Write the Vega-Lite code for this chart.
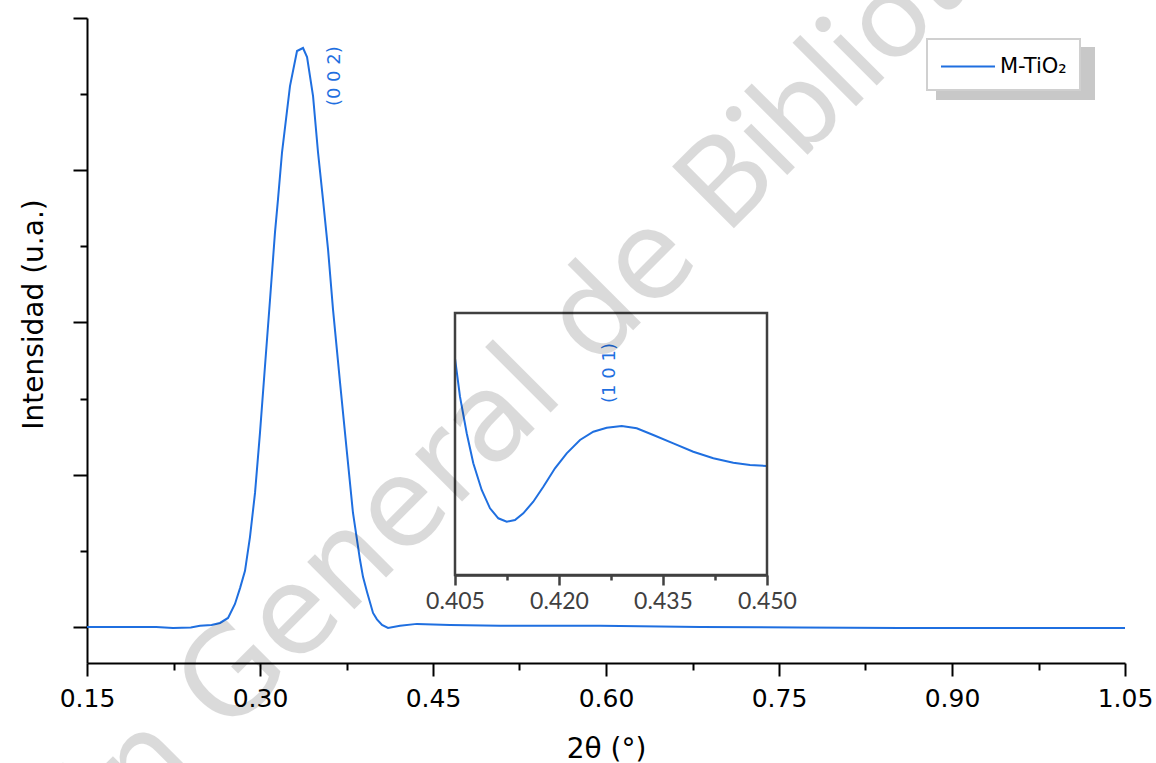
{
  "$schema": "https://vega.github.io/schema/vega-lite/v6.json",
  "width": 1038,
  "height": 645,
  "autosize": {"type": "none"},
  "padding": {"left": 87, "top": 18, "right": 31, "bottom": 100},
  "background": "white",
  "config": {
    "view": {"stroke": null},
    "font": "DejaVu Sans",
    "axis": {"grid": false, "labelFont": "DejaVu Sans", "titleFont": "DejaVu Sans"},
    "legend": {"labelFont": "DejaVu Sans"}
  },
  "datasets": {
    "main": [
      {"t": 0.150, "I": 0.000}, {"t": 0.180, "I": 0.000}, {"t": 0.210, "I": 0.000},
      {"t": 0.2246, "I": -0.007}, {"t": 0.240, "I": -0.003}, {"t": 0.248, "I": 0.007},
      {"t": 0.258, "I": 0.013}, {"t": 0.2653, "I": 0.026}, {"t": 0.2723, "I": 0.059},
      {"t": 0.2783, "I": 0.151}, {"t": 0.2827, "I": 0.255}, {"t": 0.2870, "I": 0.368},
      {"t": 0.2913, "I": 0.590}, {"t": 0.2957, "I": 0.882}, {"t": 0.3000, "I": 1.276},
      {"t": 0.3043, "I": 1.711}, {"t": 0.3087, "I": 2.151}, {"t": 0.3130, "I": 2.592},
      {"t": 0.3156, "I": 2.809}, {"t": 0.3191, "I": 3.118}, {"t": 0.3260, "I": 3.553},
      {"t": 0.3321, "I": 3.783}, {"t": 0.3373, "I": 3.803}, {"t": 0.3408, "I": 3.743},
      {"t": 0.3460, "I": 3.487}, {"t": 0.3503, "I": 3.118}, {"t": 0.3546, "I": 2.809},
      {"t": 0.3590, "I": 2.480}, {"t": 0.3633, "I": 2.086}, {"t": 0.3694, "I": 1.605},
      {"t": 0.3754, "I": 1.145}, {"t": 0.3806, "I": 0.750}, {"t": 0.3867, "I": 0.441},
      {"t": 0.3893, "I": 0.329}, {"t": 0.3928, "I": 0.230}, {"t": 0.3980, "I": 0.092},
      {"t": 0.4014, "I": 0.050}, {"t": 0.4058, "I": 0.013}, {"t": 0.4110, "I": -0.007},
      {"t": 0.4214, "I": 0.007}, {"t": 0.4361, "I": 0.020}, {"t": 0.4647, "I": 0.013},
      {"t": 0.5081, "I": 0.007}, {"t": 0.5948, "I": 0.007}, {"t": 0.6815, "I": 0.000},
      {"t": 0.768, "I": -0.003}, {"t": 0.855, "I": -0.007}, {"t": 0.9416, "I": -0.007},
      {"t": 1.050, "I": -0.007}
    ],
    "inset": [
      {"t": 0.4050, "v": 216.7}, {"t": 0.40572, "v": 178.3}, {"t": 0.40669, "v": 141.7},
      {"t": 0.40764, "v": 111.7}, {"t": 0.40885, "v": 85.0}, {"t": 0.41005, "v": 66.7},
      {"t": 0.41125, "v": 56.7}, {"t": 0.41246, "v": 53.3}, {"t": 0.41365, "v": 55.0},
      {"t": 0.41485, "v": 61.7}, {"t": 0.41629, "v": 73.3}, {"t": 0.41774, "v": 88.3},
      {"t": 0.41942, "v": 106.7}, {"t": 0.42111, "v": 121.7}, {"t": 0.42303, "v": 135.0},
      {"t": 0.42495, "v": 143.3}, {"t": 0.42688, "v": 147.3}, {"t": 0.42904, "v": 149.0},
      {"t": 0.43121, "v": 146.7}, {"t": 0.43360, "v": 140.0}, {"t": 0.43649, "v": 131.7},
      {"t": 0.43937, "v": 123.3}, {"t": 0.44226, "v": 116.7}, {"t": 0.44514, "v": 112.3},
      {"t": 0.44755, "v": 110.0}, {"t": 0.4500, "v": 109.0}
    ],
    "peak002": [{"t": 0.365, "I": 3.618, "label": "(0 0 2)"}],
    "peak101": [{"t": 0.42736, "v": 202, "label": "(1 0 1)"}]
  },
  "layer": [
    {
      "data": {"name": "main"},
      "mark": {"type": "line", "strokeWidth": 2, "opacity": 0},
      "encoding": {
        "x": {"field": "t", "type": "quantitative", "scale": {"domain": [0.15, 1.05], "nice": false, "zero": false}, "axis": null},
        "y": {"field": "I", "type": "quantitative", "scale": {"domain": [-0.237, 4], "nice": false, "zero": false}, "axis": null},
        "color": {
          "datum": "M-TiO₂",
          "scale": {"range": ["#c8c8c8"]},
          "legend": {
            "orient": "none", "legendX": 850, "legendY": 30, "title": null,
            "fillColor": "#c8c8c8", "strokeColor": "#c8c8c8",
            "padding": 13, "symbolType": "M-1,0L3,0", "symbolSize": 729,
            "symbolStrokeWidth": 2, "symbolOpacity": 0, "labelOffset": 102,
            "labelFontSize": 21, "labelColor": "#c8c8c8", "labelExpr": "''",
            "encode": {"legend": {"update": {"strokeWidth": {"value": 2}}}}
          }
        }
      }
    },
    {
      "data": {"name": "main"},
      "mark": {"type": "line", "strokeWidth": 2},
      "encoding": {
        "x": {
          "field": "t", "type": "quantitative",
          "scale": {"domain": [0.15, 1.05], "nice": false, "zero": false},
          "axis": {
            "orient": "bottom", "values": [0.15, 0.3, 0.45, 0.6, 0.75, 0.9, 1.05], "format": ".2f",
            "labelFontSize": 25, "labelColor": "black", "labelFlush": false, "labelPadding": 10,
            "tickSize": 13, "tickWidth": 2, "tickColor": "black",
            "domainColor": "black", "domainWidth": 2,
            "title": "2θ (°)", "titleFontSize": 28, "titleFontWeight": "normal", "titleColor": "black", "titlePadding": 24
          }
        },
        "y": {
          "field": "I", "type": "quantitative",
          "scale": {"domain": [-0.237, 4], "nice": false, "zero": false},
          "axis": {
            "orient": "left", "values": [0, 1, 2, 3, 4], "labels": false,
            "tickSize": 14, "tickWidth": 2, "tickColor": "black",
            "domainColor": "black", "domainWidth": 2,
            "title": "Intensidad (u.a.)", "titleFontSize": 28, "titleFontWeight": "normal", "titleColor": "black", "titlePadding": 24, "titleY": 296
          }
        },
        "color": {
          "datum": "M-TiO₂",
          "scale": {"range": ["#1f6fe0"]},
          "legend": {
            "orient": "none", "legendX": 840, "legendY": 21, "title": null,
            "fillColor": "white", "strokeColor": "#d0d0d0",
            "padding": 13, "symbolType": "M-1,0L3,0", "symbolSize": 729,
            "symbolStrokeWidth": 2, "labelOffset": 31,
            "labelFontSize": 21, "labelColor": "black",
            "encode": {"legend": {"update": {"strokeWidth": {"value": 2}}}}
          }
        }
      }
    },
    {
      "data": {"name": "peak002"},
      "mark": {"type": "text", "angle": 270, "fontSize": 18, "color": "#1f6fe0", "align": "center", "baseline": "middle"},
      "encoding": {
        "x": {
          "field": "t", "type": "quantitative",
          "scale": {"domain": [0.15, 1.05], "nice": false, "zero": false},
          "axis": {"orient": "bottom", "values": [0.225, 0.375, 0.525, 0.675, 0.825, 0.975], "labels": false, "domain": false, "tickSize": 7, "tickWidth": 2, "tickColor": "black", "title": null}
        },
        "y": {
          "field": "I", "type": "quantitative",
          "scale": {"domain": [-0.237, 4], "nice": false, "zero": false},
          "axis": {"orient": "left", "values": [0.5, 1.5, 2.5, 3.5], "labels": false, "domain": false, "tickSize": 7, "tickWidth": 2, "tickColor": "black", "title": null}
        },
        "text": {"field": "label"}
      }
    },
    {
      "data": {"name": "inset"},
      "mark": {"type": "line", "strokeWidth": 2, "color": "#1f6fe0"},
      "encoding": {
        "x": {
          "field": "t", "type": "quantitative",
          "scale": {"domain": [0.405, 0.45], "range": [368, 680], "nice": false, "zero": false},
          "axis": {
            "orient": "bottom", "offset": -88, "values": [0.405, 0.42, 0.435, 0.45], "format": ".3f",
            "labelFont": "Lato", "labelFontSize": 23, "labelColor": "#404040", "labelFlush": false, "labelPadding": 5,
            "tickSize": 10, "tickWidth": 2.5, "tickColor": "#404040",
            "domainColor": "#404040", "domainWidth": 2.5, "title": null
          }
        },
        "y": {
          "field": "v", "type": "quantitative",
          "scale": {"domain": [0, 262], "range": [557, 295], "nice": false, "zero": false},
          "axis": null
        }
      }
    },
    {
      "data": {"values": [{}]},
      "mark": {"type": "rect", "fill": "transparent", "stroke": "#404040", "strokeWidth": 2.5},
      "encoding": {
        "x": {
          "datum": 0.405, "type": "quantitative",
          "scale": {"domain": [0.405, 0.45], "range": [368, 680], "nice": false, "zero": false},
          "axis": {"orient": "bottom", "offset": -88, "values": [0.4125, 0.4275, 0.4425], "labels": false, "domain": false, "tickSize": 5, "tickWidth": 2.5, "tickColor": "#404040", "title": null}
        },
        "x2": {"datum": 0.45},
        "y": {
          "datum": 0, "type": "quantitative",
          "scale": {"domain": [0, 262], "range": [557, 295], "nice": false, "zero": false},
          "axis": null
        },
        "y2": {"datum": 262}
      }
    },
    {
      "data": {"name": "peak101"},
      "mark": {"type": "text", "angle": 270, "fontSize": 18, "color": "#1f6fe0", "align": "center", "baseline": "middle"},
      "encoding": {
        "x": {"field": "t", "type": "quantitative", "scale": {"domain": [0.405, 0.45], "range": [368, 680], "nice": false, "zero": false}, "axis": null},
        "y": {"field": "v", "type": "quantitative", "scale": {"domain": [0, 262], "range": [557, 295], "nice": false, "zero": false}, "axis": null},
        "text": {"field": "label"}
      }
    },
    {
      "data": {"values": [{}]},
      "mark": {"type": "text", "angle": 315, "fontSize": 122, "font": "Lato", "color": "black", "opacity": 0.14, "align": "left", "baseline": "alphabetic"},
      "encoding": {
        "x": {"datum": 0.704, "type": "quantitative", "scale": {"domain": [0.15, 1.05], "nice": false, "zero": false}, "axis": null},
        "y": {"datum": 2.566, "type": "quantitative", "scale": {"domain": [-0.237, 4], "nice": false, "zero": false}, "axis": null},
        "text": {"value": "Bibliotecas"}
      }
    },
    {
      "data": {"values": [{}]},
      "mark": {"type": "text", "angle": 315, "fontSize": 122, "font": "DejaVu Sans", "color": "black", "opacity": 0.14, "align": "right", "baseline": "alphabetic"},
      "encoding": {
        "x": {"datum": 0.683, "type": "quantitative", "scale": {"domain": [0.15, 1.05], "nice": false, "zero": false}, "axis": null},
        "y": {"datum": 2.40, "type": "quantitative", "scale": {"domain": [-0.237, 4], "nice": false, "zero": false}, "axis": null},
        "text": {"value": "Dirección General de"}
      }
    }
  ],
  "resolve": {
    "scale": {"x": "independent", "y": "independent", "color": "independent"},
    "axis": {"x": "independent", "y": "independent"},
    "legend": {"color": "independent"}
  }
}
